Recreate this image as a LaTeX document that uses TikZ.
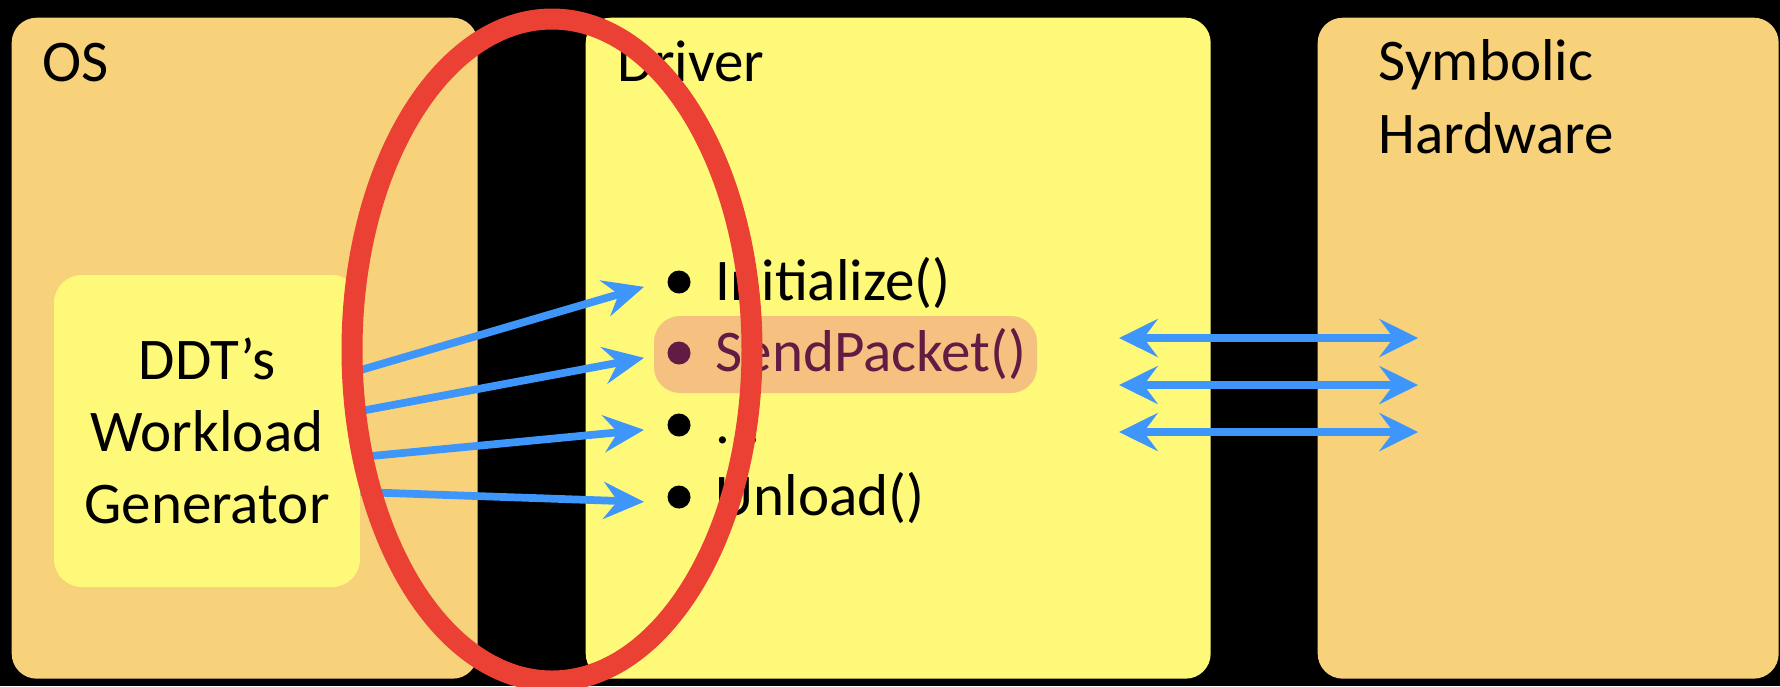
\documentclass[tikz,border=0pt]{standalone}
\usepackage{fontspec}
\setmainfont{Carlito}
\usetikzlibrary{arrows.meta,calc}

\definecolor{osorange}{RGB}{248,210,122}
\definecolor{drvyellow}{RGB}{255,249,122}
\definecolor{hlorange}{RGB}{245,193,128}
\definecolor{sendpurple}{RGB}{98,28,68}
\definecolor{arrblue}{RGB}{62,150,250}
\definecolor{ringred}{RGB}{235,64,52}

\begin{document}
\begin{tikzpicture}[scale=0.1]
\tikzstyle{every node}+=[inner sep=0pt, font=\fontsize{16.8}{20.5}\selectfont]
\tikzstyle{box}=[rounded corners=2.5mm, anchor=north west, minimum width=#1, minimum height=66.1mm]
\tikzstyle{item}=[anchor=base west, text height=11pt, text depth=3.5pt]
\tikzstyle{arr}=[draw=arrblue, line width=2.2pt, -{Stealth[length=11.5pt, width=10.5pt, inset=4pt]}]
\tikzstyle{dblarr}=[draw=arrblue, line width=2.2pt, {Stealth[length=11pt, width=10.8pt, inset=4pt]}-{Stealth[length=11pt, width=10.8pt, inset=4pt]}]
\useasboundingbox (0,0) rectangle (178,-68.6);
\fill [black] (0,0) rectangle (178,-68.6);
% layers
\node (os) [box=46.6mm, fill=osorange] at (1.1,-1.7) {};
\node (drv) [box=62.5mm, fill=drvyellow] at (58.5,-1.7) {};
\node (hw) [box=46.1mm, fill=osorange] at (131.7,-1.7) {};
\draw (4.2,-8.1) node [anchor=base west] (ostitle) {OS};
\draw (61.7,-8.1) node [anchor=base west] (drvtitle) {Driver};
\draw (137.8,-15.3) node [anchor=base west, align=left] (hwtitle) {Symbolic\\Hardware};
% workload generator
\node (wl) [fill=drvyellow, rounded corners=2.8mm, minimum width=30.6mm, minimum height=31.2mm, align=center] at (20.7,-43.1) {DDT’s\\Workload\\Generator};
% entry points
\fill [hlorange, rounded corners=2.6mm] (65.4,-31.6) rectangle (103.7,-39.3);
\draw (71.5,-30.0) node [item] (init) {Initialize()};
\draw (71.5,-37.1) node [item, text=sendpurple] (send) {SendPacket()};
\draw (71.5,-44.3) node [item] (dots) {...};
\draw (71.5,-51.5) node [item] (unload) {Unload()};
\fill [black] (init.base west) ++(-3.6,1.8) circle (1.15);
\fill [sendpurple] (send.base west) ++(-3.6,1.8) circle (1.15);
\fill [black] (dots.base west) ++(-3.6,1.8) circle (1.15);
\fill [black] (unload.base west) ++(-3.6,1.8) circle (1.15);
\draw [arr] ($(wl.east)+(0,6.1)$) -- ($(init.west)+(-7.1,0)$);
\draw [arr] ($(wl.east)+(0,2.0)$) -- ($(send.west)+(-7.1,0)$);
\draw [arr] ($(wl.east)+(0,-2.6)$) -- ($(dots.west)+(-7.1,0)$);
\draw [arr] ($(wl.east)+(0,-6.1)$) -- ($(unload.west)+(-7.1,0)$);
% driver <-> hardware
\coordinate (d1) at (111.9,-33.8);
\coordinate (h1) at (141.8,-33.8);
\coordinate (d2) at (111.9,-38.5);
\coordinate (h2) at (141.8,-38.5);
\coordinate (d3) at (111.9,-43.2);
\coordinate (h3) at (141.8,-43.2);
\draw [dblarr] (d1) -- (h1);
\draw [dblarr] (d2) -- (h2);
\draw [dblarr] (d3) -- (h3);
% interface ring
\draw [ringred, line width=2.1mm] (55.2,-35.0) ellipse (20 and 33.1);
\end{tikzpicture}
\end{document}
